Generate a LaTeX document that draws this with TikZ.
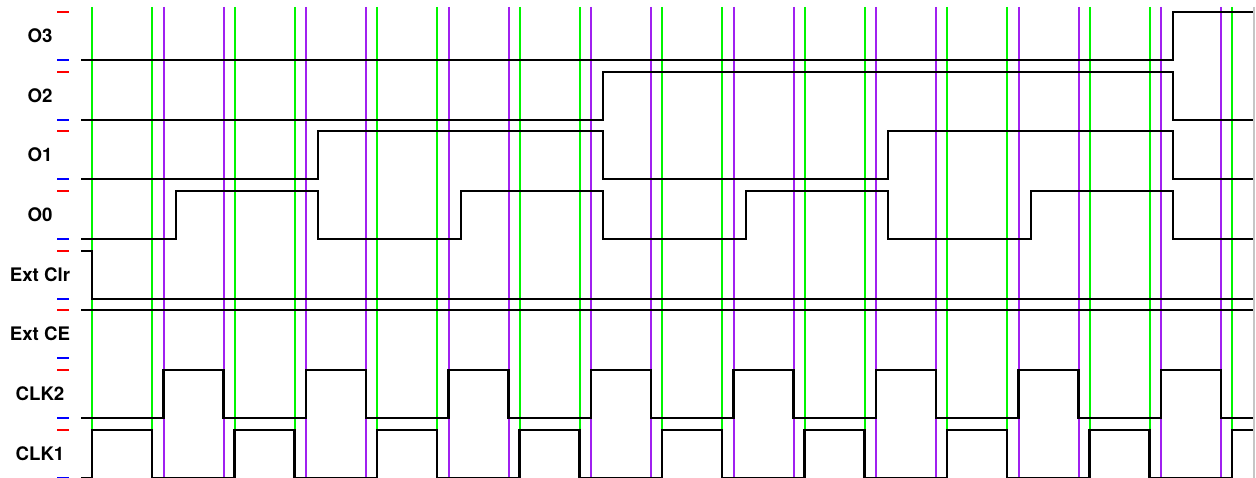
\documentclass[tikz,border=0pt]{standalone}
\usepackage{fontspec}
\setmainfont{TeX Gyre Heros}

\definecolor{edgegreen}{RGB}{0,245,0}
\definecolor{edgepurple}{RGB}{160,32,240}

\begin{document}
\begin{tikzpicture}[x=0.75pt, y=-0.75pt,
  siglabel/.style={font=\fontsize{14}{16}\selectfont\bfseries},
  wave/.style={black, line width=2.1pt},
  hitick/.style={red, line width=1.8pt},
  lotick/.style={blue, line width=1.8pt},
  greenline/.style={edgegreen, line width=1.8pt},
  purpleline/.style={edgepurple, line width=1.8pt}]

\useasboundingbox (0,0) rectangle (1256,478);

% Clock edge markers (green: CLK1 edges, purple: CLK2 edges)
\foreach \k in {0,...,7} {
  \draw[greenline] ({round(92+142.5*\k)},7) -- ({round(92+142.5*\k)},478);
  \draw[greenline] ({round(152+142.5*\k)},7) -- ({round(152+142.5*\k)},478);
  \draw[purpleline] ({round(163.5+142.5*\k)},7) -- ({round(163.5+142.5*\k)},478);
  \draw[purpleline] ({round(223.5+142.5*\k)},7) -- ({round(223.5+142.5*\k)},478);
}
\draw[greenline] (1232,7) -- (1232,478);

% Right border
\draw[gray!45, line width=1.6pt] (1254,7) -- (1254,478);

% Signal labels and level ticks
\foreach \name/\lab/\yt in {O3/O3/12, O2/O2/72, O1/O1/131, O0/O0/191,
    ExtClr/Ext Clr/251, ExtCE/Ext CE/310, CLKtwo/CLK2/370, CLKone/CLK1/430} {
  \node[siglabel] (lbl\name) at (40,\yt+24) {\lab};
  \draw[hitick] (57,\yt) -- (69,\yt);
  \draw[lotick] (57,\yt+48) -- (69,\yt+48);
}

% ---- Counter outputs ----
\draw[wave] (81,60) -- (1173,60) |- (1253,12);
\draw[wave] (81,120) -- (603,120) |- (1173,72) |- (1253,120);
\draw[wave] (81,179) -- (318,179) |- (603,131) |- (888,179)
  |- (1173,131) |- (1253,179);
\draw[wave] (81,239) -- (176,239) |- (318,191) |- (461,239)
  |- (603,191) |- (746,239) |- (888,191) |- (1031,239)
  |- (1173,191) |- (1253,239);

% ---- External inputs ----
\draw[wave] (81,251) -- (92,251) |- (1253,299);
\draw[wave] (81,310) -- (1253,310);

% ---- Clocks ----
\draw[wave] (81,418) -- (163.5,418)
  \foreach \k in {0,...,6} { -- ++(0,-48) -- ++(60,0) -- ++(0,48) -- ++(82.5,0) }
  -- ++(0,-48) -- ++(60,0) -- ++(0,48) -- (1253,418);
\draw[wave] (81,478) -- (92,478)
  \foreach \k in {0,...,7} { -- ++(0,-48) -- ++(60,0) -- ++(0,48) -- ++(82.5,0) }
  -- ++(0,-48) -- (1253,430);

\end{tikzpicture}
\end{document}
